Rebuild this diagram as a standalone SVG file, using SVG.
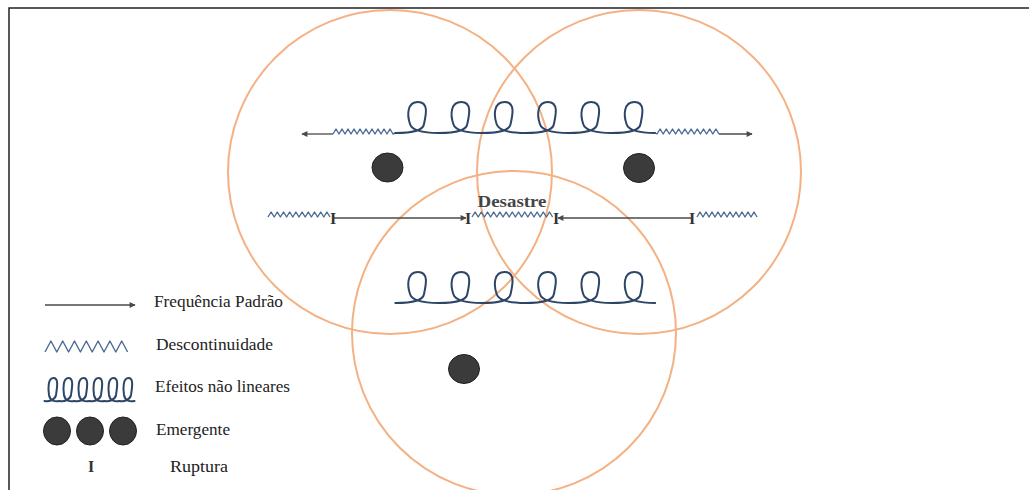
<svg xmlns="http://www.w3.org/2000/svg" xmlns:xlink="http://www.w3.org/1999/xlink" width="1029" height="490" viewBox="0 0 1029 490">
<style>
.ring{fill:none;stroke:#f4b183;stroke-width:2}
.curl{fill:none;stroke:#2d4567;stroke-width:2;stroke-linejoin:round;stroke-linecap:round}
.zig{fill:none;stroke:#4d6b93;stroke-width:1.4;stroke-linejoin:round}
.arr{fill:none;stroke:#4a4a4a;stroke-width:1.3}
.dot{fill:#3b3b3b;stroke:#222;stroke-width:1}
.txt{font-family:"Liberation Serif","Times New Roman",serif;font-size:16.5px;fill:#222}
.rup{font-family:"Liberation Serif","Times New Roman",serif;font-size:16px;font-weight:bold;fill:#333;text-anchor:middle}
</style>
<defs>
<marker id="ah" viewBox="0 0 10 10" refX="9" refY="5" markerWidth="7" markerHeight="6" markerUnits="userSpaceOnUse" orient="auto">
<path d="M0,0 L10,5 L0,10 z" fill="#4a4a4a"/>
</marker>
<path id="loop" d="M-21.65,0 C-8,0 6,-2 7,-9 C9,-18 12,-31 1,-31 C-10,-31 -10,-18 -7,-9 C-5,-2 8,0 21.65,0"/>
<path id="sloop" d="M-7.5,0 C-3,1 3,-1 4,-6 C5,-13 7,-23 1.5,-23 C-4,-23 -4,-13 -3,-6 C-2,0 3,1 7.5,0"/>
</defs>
<rect width="1029" height="490" fill="#fff"/>
<path d="M9,490 L9,8 L1029,8" fill="none" stroke="#222" stroke-width="1.5"/>

<g id="rings">
<circle class="ring" cx="390" cy="172" r="162"/>
<circle class="ring" cx="639" cy="172" r="162"/>
<circle class="ring" cx="514" cy="333" r="162"/>
</g>

<g id="connectors">
<!-- top row -->
<line class="arr" x1="333" y1="134" x2="302" y2="134" marker-end="url(#ah)"/>
<path class="zig" d="M333,134 l3,-5 l3,5 l3,-5 l3,5 l3,-5 l3,5 l3,-5 l3,5 l3,-5 l3,5 l3,-5 l3,5 l3,-5 l3,5 l3,-5 l3,5 l3,-5 l3,5 l3,-5 l3,5 L395.35,133"/>
<g class="curl">
<use xlink:href="#loop" transform="translate(417,133)"/>
<use xlink:href="#loop" transform="translate(460.3,133)"/>
<use xlink:href="#loop" transform="translate(503.6,133)"/>
<use xlink:href="#loop" transform="translate(546.9,133)"/>
<use xlink:href="#loop" transform="translate(590.2,133)"/>
<use xlink:href="#loop" transform="translate(633.5,133)"/>
</g>
<path class="zig" d="M655.15,133 L657,134 l3.1,-5 l3.1,5 l3.1,-5 l3.1,5 l3.1,-5 l3.1,5 l3.1,-5 l3.1,5 l3.1,-5 l3.1,5 l3.1,-5 l3.1,5 l3.1,-5 l3.1,5 l3.1,-5 l3.1,5 l3.1,-5 l3.1,5 l3.1,-5 l3.1,5"/>
<line class="arr" x1="719" y1="134" x2="752" y2="134" marker-end="url(#ah)"/>

<!-- middle row -->
<path class="zig" d="M268,217 l3.1,-5 l3.1,5 l3.1,-5 l3.1,5 l3.1,-5 l3.1,5 l3.1,-5 l3.1,5 l3.1,-5 l3.1,5 l3.1,-5 l3.1,5 l3.1,-5 l3.1,5 l3.1,-5 l3.1,5 l3.1,-5 l3.1,5 l3.1,-5 l3.1,5"/>
<line class="arr" x1="334" y1="218" x2="466" y2="218" marker-end="url(#ah)"/>
<path class="zig" d="M472,217 l3.1,-5 l3.1,5 l3.1,-5 l3.1,5 l3.1,-5 l3.1,5 l3.1,-5 l3.1,5 l3.1,-5 l3.1,5 l3.1,-5 l3.1,5 l3.1,-5 l3.1,5 l3.1,-5 l3.1,5 l3.1,-5 l3.1,5 l3.1,-5 l3.1,5 l3.1,-5 l3.1,5 l3.1,-5 l3.1,5 l3.1,-5 l3.1,5"/>
<line class="arr" x1="691" y1="218" x2="558" y2="218" marker-end="url(#ah)"/>
<path class="zig" d="M697,217 l3,-5 l3,5 l3,-5 l3,5 l3,-5 l3,5 l3,-5 l3,5 l3,-5 l3,5 l3,-5 l3,5 l3,-5 l3,5 l3,-5 l3,5 l3,-5 l3,5 l3,-5 l3,5"/>
<text class="rup" x="333" y="224">I</text>
<text class="rup" x="468" y="224">I</text>
<text class="rup" x="556" y="224">I</text>
<text class="rup" x="692" y="224">I</text>

<!-- bottom row -->
<g class="curl">
<use xlink:href="#loop" transform="translate(417,303)"/>
<use xlink:href="#loop" transform="translate(460.3,303)"/>
<use xlink:href="#loop" transform="translate(503.6,303)"/>
<use xlink:href="#loop" transform="translate(546.9,303)"/>
<use xlink:href="#loop" transform="translate(590.2,303)"/>
<use xlink:href="#loop" transform="translate(633.5,303)"/>
</g>
</g>

<g id="node-desastre">
<text x="512" y="207" font-family="Liberation Serif, Times New Roman, serif" font-size="17" font-weight="bold" fill="#444" text-anchor="middle" textLength="69" lengthAdjust="spacingAndGlyphs">Desastre</text>
</g>

<g id="node-emergent-1"><ellipse class="dot" cx="387.5" cy="167.5" rx="15.5" ry="14.5"/></g>
<g id="node-emergent-2"><ellipse class="dot" cx="639" cy="168" rx="15.5" ry="14.5"/></g>
<g id="node-emergent-3"><ellipse class="dot" cx="464" cy="369" rx="15.5" ry="14.5"/></g>

<g id="legend">
<line class="arr" x1="45" y1="305" x2="135" y2="305" marker-end="url(#ah)"/>
<text class="txt" x="154" y="307" textLength="129" lengthAdjust="spacingAndGlyphs">Frequência Padrão</text>
<path class="zig" stroke-width="1.5" d="M45,352 l5.9,-11 l5.9,11 l5.9,-11 l5.9,11 l5.9,-11 l5.9,11 l5.9,-11 l5.9,11 l5.9,-11 l5.9,11 l5.9,-11 l5.9,11 l5.9,-11 l5.9,11"/>
<text class="txt" x="156" y="350" textLength="117" lengthAdjust="spacingAndGlyphs">Descontinuidade</text>
<g class="curl">
<use xlink:href="#sloop" transform="translate(52,401)"/>
<use xlink:href="#sloop" transform="translate(67,401)"/>
<use xlink:href="#sloop" transform="translate(82,401)"/>
<use xlink:href="#sloop" transform="translate(97,401)"/>
<use xlink:href="#sloop" transform="translate(112,401)"/>
<use xlink:href="#sloop" transform="translate(127,401)"/>
</g>
<text class="txt" x="155" y="392" textLength="135" lengthAdjust="spacingAndGlyphs">Efeitos não lineares</text>
<ellipse class="dot" cx="57" cy="431" rx="13.5" ry="14"/>
<ellipse class="dot" cx="90" cy="431" rx="13.5" ry="14"/>
<ellipse class="dot" cx="123" cy="431" rx="13.5" ry="14"/>
<text class="txt" x="156" y="435" textLength="74" lengthAdjust="spacingAndGlyphs">Emergente</text>
<text class="rup" x="91" y="472">I</text>
<text class="txt" x="170" y="472" textLength="58" lengthAdjust="spacingAndGlyphs">Ruptura</text>
</g>
</svg>
